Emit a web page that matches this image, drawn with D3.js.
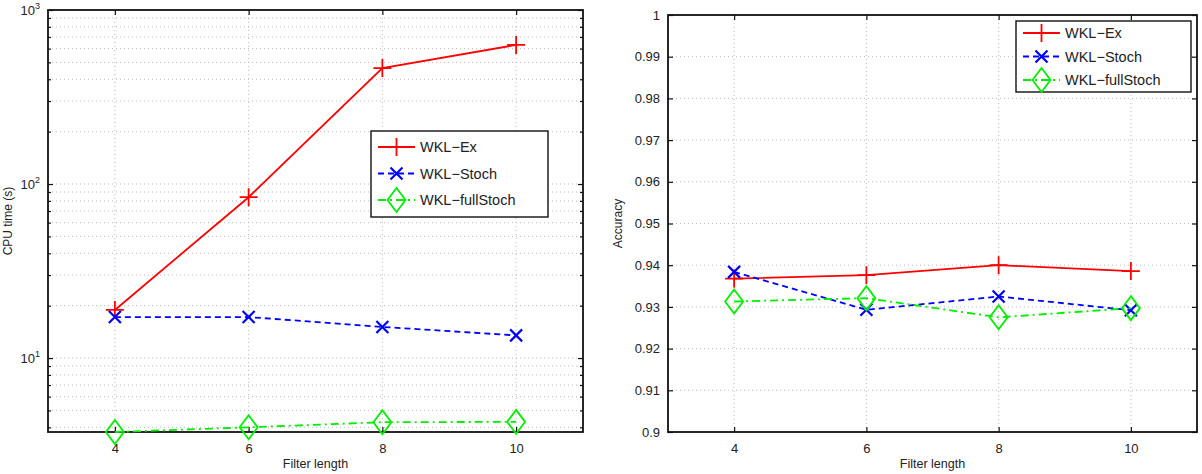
<!DOCTYPE html>
<html>
<head>
<meta charset="utf-8">
<script src="https://cdn.jsdelivr.net/npm/d3@7"></script>
<style>
  body { margin: 0; background: #fff; }
  text { font-family: "Liberation Sans", Arial, sans-serif; fill: #222; }
</style>
</head>
<body>
<div id="chart"></div>
<script>
const filterLengths = [4, 6, 8, 10]
const xTicks = [4, 6, 8, 10]
const seriesNames = ['WKL\u2212Ex', 'WKL\u2212Stoch', 'WKL\u2212fullStoch']

// CPU time (s), log scale
const cpuEx = [18.9, 84, 464, 630]
const cpuStoch = [17.2, 17.2, 15.1, 13.5]
const cpuFullStoch = [3.76, 4.0, 4.28, 4.3]

// accuracy
const accEx = [0.9368, 0.9376, 0.9400, 0.9386]
const accStoch = [0.9384, 0.9293, 0.9325, 0.9292]
const accFullStoch = [0.9313, 0.9321, 0.9275, 0.9297]
const accTicks = [0.9, 0.91, 0.92, 0.93, 0.94, 0.95, 0.96, 0.97, 0.98, 0.99, 1]

const W = 1202, H = 474

const styles = [
  { color: '#ff0000', dash: null, marker: 'plus' },
  { color: '#0000ff', dash: '6,4', marker: 'cross' },
  { color: '#00ee00', dash: '8,4,2,4', marker: 'diamond' }
]

let svg = d3.select('#chart').append('svg')
  .attr('width', W)
  .attr('height', H)

function marker (g, type, x, y, color) {
  let p = d3.path()
  if (type === 'plus') {
    p.moveTo(x - 9, y); p.lineTo(x + 9, y)
    p.moveTo(x, y - 9); p.lineTo(x, y + 9)
  } else if (type === 'cross') {
    p.moveTo(x - 6, y - 6); p.lineTo(x + 6, y + 6)
    p.moveTo(x - 6, y + 6); p.lineTo(x + 6, y - 6)
  } else {
    p.moveTo(x, y - 12); p.lineTo(x + 9, y); p.lineTo(x, y + 12); p.lineTo(x - 9, y); p.closePath()
  }
  g.append('path')
    .attr('d', p.toString())
    .attr('fill', 'none')
    .attr('stroke', color)
    .attr('stroke-width', type === 'cross' ? 2.2 : 1.8)
}

function drawPanel (o) {
  let x = d3.scaleLinear().domain([3, 11]).range([o.left, o.right])
  let y = o.y
  let g = svg.append('g')

  // grid
  let grid = g.append('g')
    .attr('stroke', '#aaa')
    .attr('stroke-width', 0.8)
    .attr('stroke-dasharray', '1,3')
  grid.selectAll('line.v').data(xTicks).enter().append('line')
    .attr('x1', d => x(d)).attr('x2', d => x(d))
    .attr('y1', o.top).attr('y2', o.bottom)
  grid.selectAll('line.h').data(o.gridY).enter().append('line')
    .attr('x1', o.left).attr('x2', o.right)
    .attr('y1', d => y(d)).attr('y2', d => y(d))

  // axes via d3 axis, ticks pointing inward
  let axG = g.append('g').attr('class', 'axes')
  axG.append('g')
    .attr('transform', `translate(0,${o.bottom})`)
    .call(d3.axisBottom(x).tickValues(xTicks).tickSizeInner(-5).tickSizeOuter(0).tickPadding(12))
  axG.append('g')
    .attr('transform', `translate(0,${o.top})`)
    .call(d3.axisTop(x).tickValues(xTicks).tickSizeInner(-5).tickSizeOuter(0).tickFormat(''))
  let left = axG.append('g')
    .attr('transform', `translate(${o.left},0)`)
    .call(d3.axisLeft(y).tickValues(o.majorY).tickSizeInner(-5).tickSizeOuter(0).tickPadding(8).tickFormat(o.fmt || null))
  axG.append('g')
    .attr('transform', `translate(${o.right},0)`)
    .call(d3.axisRight(y).tickValues(o.majorY).tickSizeInner(-5).tickSizeOuter(0).tickFormat(''))
  if (o.minorY) {
    axG.append('g').attr('transform', `translate(${o.left},0)`)
      .call(d3.axisLeft(y).tickValues(o.minorY).tickSizeInner(-3).tickSizeOuter(0).tickFormat(''))
    axG.append('g').attr('transform', `translate(${o.right},0)`)
      .call(d3.axisRight(y).tickValues(o.minorY).tickSizeInner(-3).tickSizeOuter(0).tickFormat(''))
  }
  axG.selectAll('.domain').remove()
  axG.selectAll('line').attr('stroke', '#111').attr('stroke-width', 1.2)
  axG.selectAll('text').style('font-size', '13px').attr('fill', '#333')
  g.append('rect')
    .attr('x', o.left).attr('y', o.top)
    .attr('width', o.right - o.left).attr('height', o.bottom - o.top)
    .attr('fill', 'none').attr('stroke', '#111').attr('stroke-width', 1.8)

  if (o.logLabels) {
    left.selectAll('.tick text').each(function (d) {
      let t = d3.select(this).text('')
      t.append('tspan').text('10')
      t.append('tspan').text(Math.round(Math.log10(d)))
        .attr('dy', '-0.6em').style('font-size', '9px')
    })
  }

  // series
  o.series.forEach((vals, i) => {
    let s = styles[i]
    let pts = filterLengths.map((f, j) => [x(f), y(vals[j])])
    g.append('path')
      .attr('d', d3.line()(pts))
      .attr('fill', 'none')
      .attr('stroke', s.color)
      .attr('stroke-width', 1.8)
      .attr('stroke-dasharray', s.dash)
    pts.forEach(p => marker(g, s.marker, p[0], p[1], s.color))
  })

  // labels
  g.append('text')
    .attr('x', (o.left + o.right) / 2).attr('y', 468)
    .attr('text-anchor', 'middle').style('font-size', '12.5px')
    .text('Filter length')
  g.append('text')
    .attr('transform', `translate(${o.ylabelX},${(o.top + o.bottom) / 2}) rotate(-90)`)
    .attr('text-anchor', 'middle').style('font-size', '12px')
    .text(o.ylabel)

  // legend
  let L = o.legend
  let lg = g.append('g')
  lg.append('rect')
    .attr('x', L.x).attr('y', L.y).attr('width', L.w).attr('height', L.h)
    .attr('fill', '#fff').attr('stroke', '#111').attr('stroke-width', 1.4)
  seriesNames.forEach((name, i) => {
    let s = styles[i]
    let cy = L.y + L.first + i * L.step
    lg.append('line')
      .attr('x1', L.x + 7).attr('x2', L.x + 44)
      .attr('y1', cy).attr('y2', cy)
      .attr('stroke', s.color).attr('stroke-width', 1.8)
      .attr('stroke-dasharray', s.dash)
    marker(lg, s.marker, L.x + 25.5, cy, s.color)
    lg.append('text')
      .attr('x', L.x + 49).attr('y', cy)
      .attr('dy', '0.35em').style('font-size', '14.5px')
      .text(name)
  })
}

// left: CPU time
let cpuY = d3.scaleLog().domain([3.76, 1000]).range([432, 10])
let cpuMinor = []
;[1, 10, 100].forEach(b => d3.range(2, 10).forEach(k => {
  let v = b * k
  if (v >= 3.76 && v <= 1000) cpuMinor.push(v)
}))
drawPanel({
  left: 48, right: 583, top: 10, bottom: 432,
  y: cpuY,
  majorY: [10, 100, 1000],
  minorY: cpuMinor,
  gridY: [10, 100].concat(cpuMinor),
  logLabels: true,
  ylabel: 'CPU time (s)', ylabelX: 12,
  series: [cpuEx, cpuStoch, cpuFullStoch],
  legend: { x: 371, y: 131, w: 177, h: 86, first: 16, step: 26.5 }
})

// right: accuracy
let accY = d3.scaleLinear().domain([0.9, 1]).range([432, 15])
drawPanel({
  left: 668, right: 1197, top: 15, bottom: 432,
  y: accY,
  majorY: accTicks,
  gridY: accTicks.slice(1, -1),
  fmt: d => d3.format('')(+d.toFixed(2)),
  ylabel: 'Accuracy', ylabelX: 622,
  series: [accEx, accStoch, accFullStoch],
  legend: { x: 1016, y: 21, w: 175, h: 71, first: 12, step: 23.5 }
})
</script>
</body>
</html>
